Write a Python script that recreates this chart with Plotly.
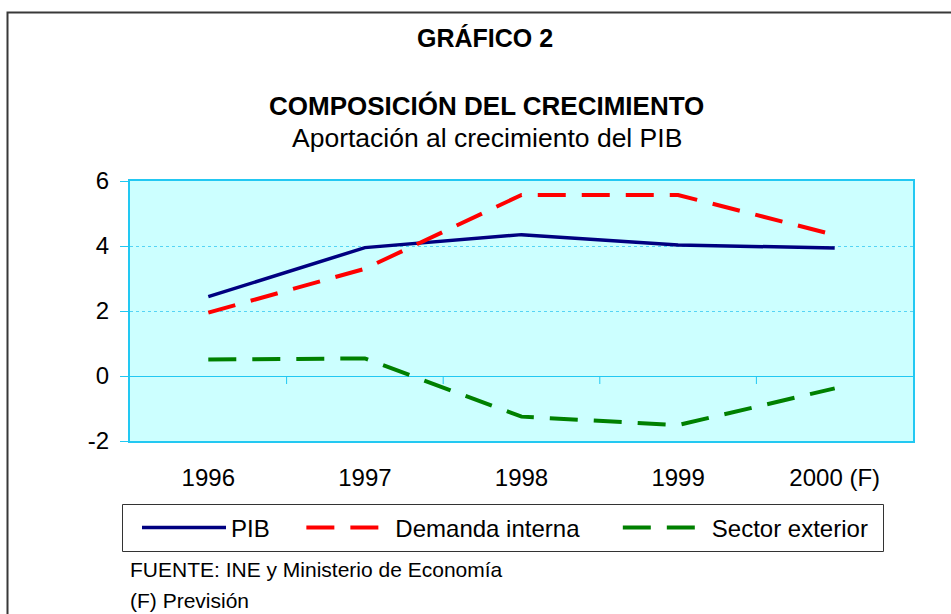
import plotly.graph_objects as go

years = ["1996", "1997", "1998", "1999", "2000 (F)"]
pib = [2.44, 3.95, 4.35, 4.03, 3.94]
demanda_interna = [1.95, 3.30, 5.57, 5.57, 4.34]
sector_exterior = [0.51, 0.54, -1.25, -1.51, -0.38]
y_ticks = [-2, 0, 2, 4, 6]
y_tick_text = ["-2", "0", "2", "4", "6"]

FONT = "Liberation Sans, Arial, sans-serif"
CYAN = "#22C8F2"
GRID = "#55D4F5"
NB = "\u00a0"

fig = go.Figure()
fig.add_trace(go.Scatter(x=years, y=pib, name="PIB" + NB * 4, mode="lines",
                         line=dict(color="#000080", width=3.5)))
fig.add_trace(go.Scatter(x=years, y=demanda_interna, name="Demanda interna" + NB * 5, mode="lines",
                         line=dict(color="#FF0000", width=4, dash="28px,16px")))
fig.add_trace(go.Scatter(x=years, y=sector_exterior, name="Sector exterior", mode="lines",
                         line=dict(color="#008000", width=4, dash="28px,16px")))

W, H = 951, 614
L, R, T, B = 130, 913, 181, 441
def px(xp):
    return (xp - L) / (R - L)
def py(yp):
    return (B - yp) / (B - T)

shapes = []
# tick marks on zero line between categories
for i in range(len(years) - 1):
    shapes.append(dict(type="line", xref="x", yref="y", x0=i + 0.5, x1=i + 0.5,
                       ysizemode="pixel", yanchor=0, y0=0, y1=-8,
                       line=dict(color=CYAN, width=1)))
# outer frame
shapes.append(dict(type="rect", xref="paper", yref="paper",
                   x0=px(7.5), x1=px(1000), y0=py(12.5), y1=py(700),
                   line=dict(color="#383838", width=2), layer="below"))
# legend box
shapes.append(dict(type="rect", xref="paper", yref="paper",
                   x0=px(122.5), x1=px(883.5), y0=py(504.5), y1=py(551.5),
                   line=dict(color="#333333", width=1), fillcolor="white", layer="below"))

annotations = [
    dict(text="<b>GRÁFICO 2</b>", x=px(485), y=py(38), xref="paper", yref="paper",
         showarrow=False, xanchor="center", yanchor="middle", font=dict(size=25, color="black", family=FONT)),
    dict(text="<b>COMPOSICIÓN DEL CRECIMIENTO</b>", x=px(486), y=py(106), xref="paper", yref="paper",
         showarrow=False, xanchor="center", yanchor="middle", font=dict(size=26, color="black", family=FONT)),
    dict(text="Aportación al crecimiento del PIB", x=px(487), y=py(138), xref="paper", yref="paper",
         showarrow=False, xanchor="center", yanchor="middle", font=dict(size=26.5, color="black", family=FONT)),
    dict(text="FUENTE: INE y Ministerio de Economía", x=px(128), y=py(569), xref="paper", yref="paper",
         showarrow=False, xanchor="left", yanchor="middle", font=dict(size=21, color="black", family=FONT)),
    dict(text="(F) Previsión", x=px(128), y=py(600), xref="paper", yref="paper",
         showarrow=False, xanchor="left", yanchor="middle", font=dict(size=21, color="black", family=FONT)),
]

fig.update_layout(
    width=W, height=H,
    margin=dict(l=L, r=W - R, t=T, b=H - B, pad=0),
    paper_bgcolor="white",
    plot_bgcolor="#CCFFFF",
    font=dict(family=FONT, size=24, color="black"),
    showlegend=True,
    legend=dict(orientation="h", x=px(137), y=py(528), xanchor="left", yanchor="middle",
                borderwidth=0, bgcolor="rgba(0,0,0,0)",
                font=dict(size=24, family=FONT, color="black"), itemwidth=84,
                traceorder="normal"),
    shapes=shapes,
    annotations=annotations,
    xaxis=dict(type="category", range=[-0.5, len(years) - 0.5], showgrid=False,
               showline=True, mirror=True, linecolor=CYAN, linewidth=2,
               ticks="", ticklabelstandoff=14, tickfont=dict(size=24),
               fixedrange=True),
    yaxis=dict(range=[-2, 6], tickvals=y_ticks, ticktext=y_tick_text,
               showgrid=True, gridcolor=GRID, griddash="dot",
               gridwidth=1, zeroline=True, zerolinecolor=CYAN, zerolinewidth=1,
               showline=True, mirror=True, linecolor=CYAN, linewidth=2,
               ticks="outside", ticklen=8, tickcolor=CYAN, tickfont=dict(size=24),
               ticklabelstandoff=6, fixedrange=True),
)

fig.write_html("out.html", config={"displayModeBar": False},
               post_script="document.body.style.margin='0';")
